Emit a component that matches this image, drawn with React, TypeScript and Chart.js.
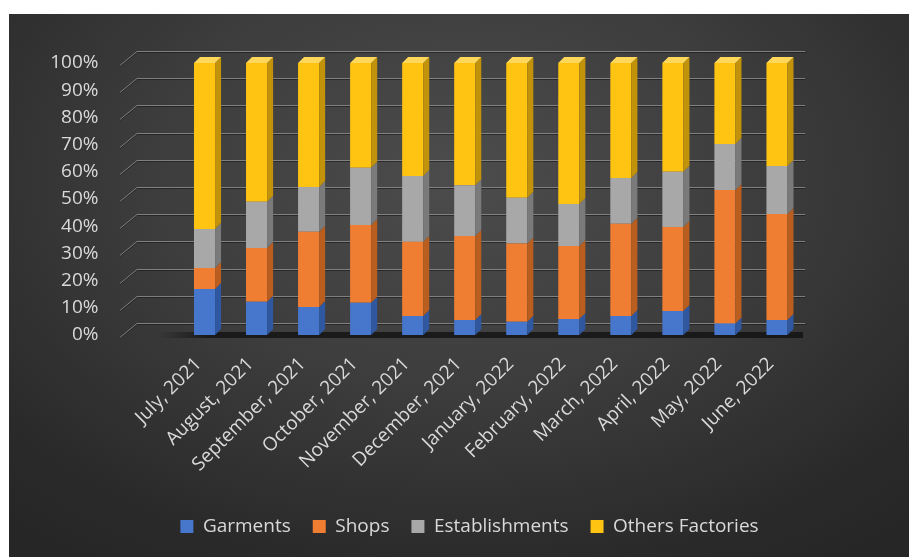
import React, { useEffect, useRef } from 'react';
import { Chart, registerables } from 'chart.js';

Chart.register(...registerables);

const categories = [
  'July, 2021', 'August, 2021', 'September, 2021', 'October, 2021', 'November, 2021', 'December, 2021',
  'January, 2022', 'February, 2022', 'March, 2022', 'April, 2022', 'May, 2022', 'June, 2022',
];
const garments = [16.9, 12.2, 10.3, 11.9, 7.0, 5.5, 4.9, 5.9, 7.0, 8.8, 4.2, 5.5];
const shops = [7.7, 19.8, 27.7, 28.5, 27.3, 30.9, 28.7, 26.8, 33.9, 30.9, 49.1, 39.0];
const establishments = [14.4, 17.0, 16.4, 21.1, 24.2, 18.7, 16.9, 15.5, 16.8, 20.3, 16.9, 17.6];
const othersFactories = [61.0, 51.0, 45.6, 38.5, 41.5, 44.9, 49.5, 51.8, 42.3, 40.0, 29.8, 37.9];
const seriesNames = ['Garments', 'Shops', 'Establishments', 'Others Factories'];
const seriesValues = [garments, shops, establishments, othersFactories];
const yTickMin = 0;
const yTickMax = 100;
const yTickStep = 10;

const frontColors = ['#4677CC', '#EF7E33', '#A8A8A8', '#FFC412'];
const sideColors = ['#2F58A0', '#B95E1F', '#7A7A7A', '#C2920A'];
const topColors = ['#6E97DE', '#F6A066', '#C8C8C8', '#FFD75A'];
const FONT = "'Open Sans', sans-serif";
const TEXT = '#D9D9D9';
const DX = 6;
const DY = 6;
const PAD_TOP = 49;
const PAD_BOTTOM = 11;
const AREA_BOTTOM = 321;

const wallPlugin = {
  id: 'wall3d',
  beforeDatasetsDraw(chart: any) {
    const { ctx } = chart;
    const y = chart.scales.y;
    const x0 = 111;
    const x1 = 128;
    const x2 = 796;
    ctx.save();
    y.ticks.forEach((t: any) => {
      const p = Math.round(y.getPixelForValue(t.value));
      ctx.strokeStyle = 'rgba(20,20,20,0.55)';
      ctx.lineWidth = 1;
      ctx.beginPath();
      ctx.moveTo(x0, p + 3.5);
      ctx.lineTo(x1, p - 10.5);
      ctx.lineTo(x2, p - 10.5);
      ctx.stroke();
      ctx.strokeStyle = 'rgba(135,135,135,0.9)';
      ctx.beginPath();
      ctx.moveTo(x0, p + 2.5);
      ctx.lineTo(x1, p - 11.5);
      ctx.lineTo(x2, p - 11.5);
      ctx.stroke();
    });
    const p0 = y.getPixelForValue(0);
    const g = ctx.createLinearGradient(150, 0, 200, 0);
    g.addColorStop(0, 'rgba(15,15,15,0)');
    g.addColorStop(1, 'rgba(15,15,15,0.75)');
    ctx.fillStyle = g;
    ctx.fillRect(150, p0 - 3, 644, 6);
    ctx.restore();
  },
  afterDatasetsDraw(chart: any) {
    const { ctx } = chart;
    ctx.save();
    const n = chart.data.datasets.length;
    for (let i = 0; i < n; i++) {
      const meta = chart.getDatasetMeta(i);
      meta.data.forEach((bar: any) => {
        const { x, y, base, width } = bar.getProps(['x', 'y', 'base', 'width'], true);
        const r = x + width / 2;
        const l = x - width / 2;
        ctx.fillStyle = sideColors[i];
        ctx.beginPath();
        ctx.moveTo(r, y);
        ctx.lineTo(r + DX, y - DY);
        ctx.lineTo(r + DX, base - DY);
        ctx.lineTo(r, base);
        ctx.closePath();
        ctx.fill();
        if (i === n - 1) {
          ctx.fillStyle = topColors[i];
          ctx.beginPath();
          ctx.moveTo(l, y);
          ctx.lineTo(l + DX, y - DY);
          ctx.lineTo(r + DX, y - DY);
          ctx.lineTo(r, y);
          ctx.closePath();
          ctx.fill();
        }
      });
    }
    ctx.restore();
  },
};

export default function App() {
  const canvasRef = useRef<HTMLCanvasElement | null>(null);

  useEffect(() => {
    if (!canvasRef.current) return;
    const chart = new Chart(canvasRef.current, {
      type: 'bar',
      data: {
        labels: categories,
        datasets: seriesNames.map((name, i) => ({
          label: name,
          data: seriesValues[i],
          backgroundColor: frontColors[i],
          borderWidth: 0,
          barPercentage: 0.405,
          categoryPercentage: 1,
          yAxisID: 'y',
        })),
      },
      options: {
        animation: false,
        responsive: true,
        maintainAspectRatio: false,
        devicePixelRatio: 1,
        layout: { padding: { left: 21, right: 0, top: PAD_TOP, bottom: PAD_BOTTOM } },
        plugins: {
          tooltip: { enabled: false },
          legend: {
            position: 'bottom',
            labels: {
              color: TEXT,
              font: { family: FONT, size: 19 },
              boxWidth: 13,
              boxHeight: 13,
              padding: 22,
            },
          },
        },
        scales: {
          x: {
            stacked: true,
            grid: { display: false },
            border: { display: false },
            ticks: {
              color: TEXT,
              font: { family: FONT, size: 19 },
              maxRotation: 45,
              minRotation: 45,
              padding: 10,
              labelOffset: -6,
              autoSkip: false,
            },
            afterFit: (scale: any) => {
              const lh = scale.chart.legend ? scale.chart.legend.height : 60;
              scale.height = 543 - AREA_BOTTOM - PAD_BOTTOM - lh;
            },
          },
          y: {
            stacked: true,
            min: yTickMin,
            max: yTickMax,
            grid: { display: false, drawTicks: false },
            border: { display: false },
            ticks: {
              stepSize: yTickStep,
              autoSkip: false,
              color: TEXT,
              font: { family: FONT, size: 19 },
              padding: 80,
              callback: (v: any) => `${v}%`,
            },
            afterFit: (scale: any) => {
              scale.width = 148.5;
              scale.paddingTop = 0;
              scale.paddingBottom = 0;
            },
          },
          yRight: {
            position: 'right',
            min: yTickMin,
            max: yTickMax,
            grid: { display: false, drawTicks: false },
            border: { display: false },
            ticks: { display: false },
            afterFit: (scale: any) => {
              scale.width = 106;
              scale.paddingTop = 0;
              scale.paddingBottom = 0;
            },
          },
        },
      },
      plugins: [wallPlugin],
    });
    return () => chart.destroy();
  }, []);

  return (
    <div
      style={{
        position: 'absolute',
        left: 9,
        top: 14,
        width: 900,
        height: 543,
        background:
          'radial-gradient(ellipse 75% 85% at 50% 30%, #4c4c4c 0%, #3d3d3d 45%, #2a2a2a 85%, #262626 100%)',
      }}
    >
      <canvas ref={canvasRef} />
    </div>
  );
}
